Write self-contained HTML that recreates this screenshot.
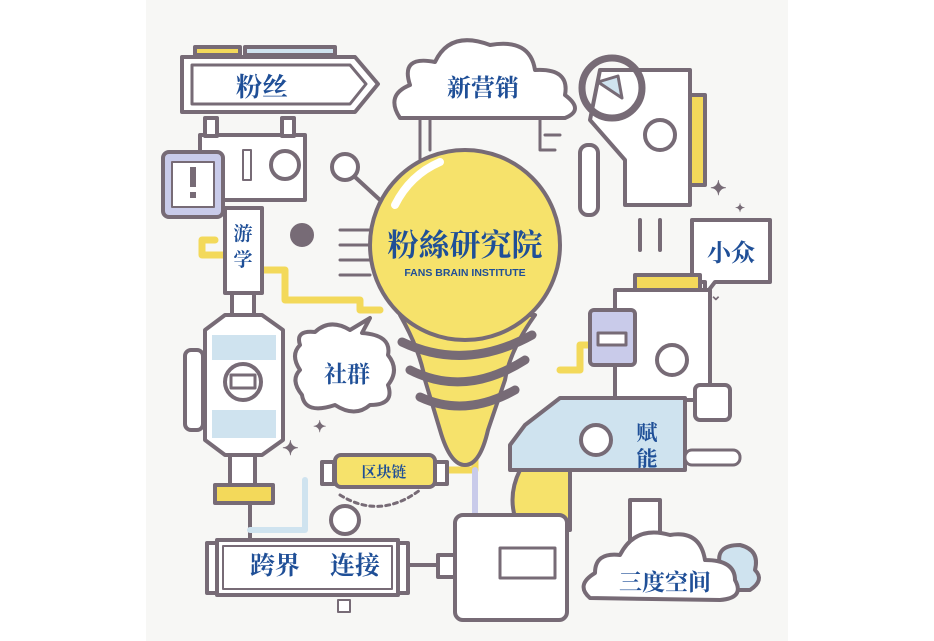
<!DOCTYPE html>
<html><head><meta charset="utf-8"><style>
html,body{margin:0;padding:0;background:#fff;}
svg{display:block}
text{font-family:"Liberation Serif","Noto Serif CJK SC",serif;fill:#1f4f97;font-weight:bold}
</style></head><body>
<svg width="934" height="641" viewBox="0 0 934 641" xmlns="http://www.w3.org/2000/svg">
<rect x="0" y="0" width="934" height="641" fill="#fff"/>
<rect x="146" y="0" width="642" height="641" fill="#f7f7f5"/>
<g stroke="#776b76" stroke-width="4" stroke-linejoin="round" stroke-linecap="round">
<path d="M215 240 H202 V255 H225" fill="none" stroke="#f3d95a" stroke-width="7"/>
<path d="M262 270 H285 V300 H360 V310 H380" fill="none" stroke="#f3d95a" stroke-width="7"/>
<path d="M560 370 H580 V345 H600" fill="none" stroke="#f3d95a" stroke-width="7"/>
<path d="M640 220 V250 M660 220 V250" fill="none"/>
<path d="M250 480 V540" fill="none"/>
<path d="M440 470 H475 V440" fill="none" stroke="#f3d95a" stroke-width="7"/>
<path d="M475 470 V520" fill="none" stroke="#c9cbea" stroke-width="6"/>
<path d="M305 480 V530 H250" fill="none" stroke="#cfe3ef" stroke-width="6"/>
<path d="M420 120 V160 M430 120 V150 M540 120 V150 H555 M545 135 H560" fill="none" stroke-width="3"/>
<path d="M340 230 H370 M340 245 H370 M340 260 H370 M340 275 H370" fill="none" stroke-width="3"/>
<path d="M405 565 H455" fill="none"/>
<rect x="195" y="47" width="45" height="8" fill="#f3d95a"/>
<rect x="245" y="47" width="90" height="8" fill="#cfe3ef"/>
<path d="M182 57 H355 L378 84 L355 112 H182 Z" fill="#fff"/>
<path d="M192 65 H350 L366 84 L350 104 H192 Z" fill="#fff" stroke-width="3"/>
<rect x="200" y="135" width="105" height="65" fill="#fff"/>
<rect x="205" y="118" width="12" height="18" fill="#fff"/>
<rect x="282" y="118" width="12" height="18" fill="#fff"/>
<circle cx="285" cy="165" r="14" fill="#fff"/>
<rect x="243" y="150" width="8" height="30" fill="#fff" stroke-width="2"/>
<rect x="163" y="152" width="60" height="65" rx="6" fill="#c9cbea"/>
<rect x="172" y="162" width="42" height="45" fill="#fff" stroke-width="2"/>
<rect x="190" y="167" width="6" height="20" fill="#776b76" stroke="none"/>
<rect x="190" y="192" width="6" height="6" fill="#776b76" stroke="none"/>
<circle cx="302" cy="235" r="10" fill="#776b76"/>
<rect x="225" y="208" width="37" height="85" fill="#fff"/>
<rect x="232" y="293" width="22" height="30" fill="#fff"/>
<path d="M205 330 L225 315 H262 L283 330 V440 L262 455 H225 L205 440 Z" fill="#fff"/>
<path d="M212 335 H276 V360 H212 Z" fill="#cfe3ef" stroke="none"/>
<path d="M212 410 H276 V438 H212 Z" fill="#cfe3ef" stroke="none"/>
<circle cx="243" cy="382" r="18" fill="#fff"/>
<rect x="231" y="375" width="24" height="13" fill="#fff" stroke-width="3"/>
<rect x="185" y="350" width="18" height="80" rx="6" fill="#fff"/>
<rect x="215" y="485" width="58" height="18" fill="#f3d95a"/>
<rect x="230" y="455" width="25" height="30" fill="#fff"/>
<!-- bulb -->
<path d="M400 315 Q420 350 425 380 L440 430 Q450 465 465 465 Q480 465 488 430 L505 380 Q510 350 535 315 Z" fill="#f6e26b"/>
<circle cx="465" cy="245" r="95" fill="#f6e26b"/>
<path d="M402 342 Q465 372 532 335" fill="none" stroke-width="9"/>
<path d="M410 370 Q465 398 525 360" fill="none" stroke-width="9"/>
<path d="M420 397 Q465 418 515 390" fill="none" stroke-width="9"/>
<path d="M395 205 Q410 175 440 162" fill="none" stroke="#fff" stroke-width="8"/>
<circle cx="345" cy="167" r="13" fill="#fff"/>
<path d="M355 177 L380 200" fill="none"/>
<path d="M400 118 Q385 95 410 85 Q400 55 435 62 Q450 30 490 45 Q530 38 535 70 Q570 68 565 95 Q585 110 565 118 Z" fill="#fff"/>
<!-- top right machine -->
<path d="M600 70 H690 V205 H625 V160 L590 120 Z" fill="#fff"/>
<rect x="690" y="95" width="15" height="90" fill="#f3d95a"/>
<circle cx="660" cy="135" r="15" fill="#fff"/>
<circle cx="612" cy="88" r="30" fill="none" stroke-width="7"/>
<path d="M598 82 L618 76 L622 98 Z" fill="#cfe3ef" stroke-width="3"/>
<rect x="580" y="145" width="18" height="70" rx="8" fill="#fff"/>
<path d="M692 220 H770 V282 H715 L705 295 V282 H692 Z" fill="#fff"/>
<rect x="635" y="275" width="65" height="15" fill="#f3d95a"/>
<rect x="615" y="290" width="95" height="110" fill="#fff"/>
<rect x="590" y="310" width="45" height="55" rx="4" fill="#c9cbea"/>
<rect x="598" y="333" width="28" height="12" fill="#fff" stroke-width="3"/>
<circle cx="672" cy="360" r="15" fill="#fff"/>
<rect x="695" y="385" width="35" height="35" rx="5" fill="#fff"/>
<path d="M520 470 Q505 500 520 530 H570 V470 Z" fill="#f6e26b"/>
<circle cx="540" cy="445" r="22" fill="#fff" stroke-dasharray="6 4"/>
<path d="M525 425 L560 398 H685 V470 H510 V445 Z" fill="#cfe3ef"/>
<circle cx="596" cy="440" r="15" fill="#fff"/>
<rect x="630" y="500" width="30" height="45" fill="#fff"/>
<rect x="685" y="450" width="55" height="15" rx="7" fill="#fff" stroke-width="3"/>
<path d="M300 345 Q295 330 315 332 Q330 318 350 330 L370 318 L362 333 Q392 335 388 355 Q400 370 388 385 Q395 405 370 405 Q355 418 335 405 Q305 415 302 395 Q290 380 300 370 Q290 355 300 345 Z" fill="#fff"/>
<path d="M340 495 Q380 520 420 490" fill="none" stroke-dasharray="4 4" stroke-width="3"/>
<rect x="322" y="462" width="12" height="22" fill="#fff"/>
<rect x="335" y="455" width="100" height="32" rx="6" fill="#f6e26b"/>
<rect x="435" y="462" width="12" height="22" fill="#fff"/>
<circle cx="345" cy="520" r="14" fill="#fff"/>
<rect x="207" y="543" width="10" height="50" fill="#fff"/>
<rect x="398" y="543" width="10" height="50" fill="#fff"/>
<rect x="217" y="540" width="181" height="55" fill="#fff"/>
<rect x="223" y="546" width="169" height="43" fill="#fff" stroke-width="2"/>
<rect x="338" y="600" width="12" height="12" fill="#fff" stroke-width="2"/>
<rect x="455" y="515" width="112" height="105" rx="8" fill="#fff"/>
<rect x="500" y="548" width="55" height="30" fill="#fff" stroke-width="3"/>
<rect x="438" y="555" width="17" height="22" fill="#fff"/>
<path d="M720 565 Q715 545 740 545 Q760 550 755 570 Q765 580 750 590 H720 Z" fill="#cfe3ef"/>
<path d="M590 598 Q575 585 595 573 Q595 552 620 555 Q635 525 670 535 Q700 530 705 560 Q735 560 735 580 Q745 598 720 600 Z" fill="#fff"/>
</g>
<g font-size="20"><text x="710" y="195" style="fill:#776b76">✦</text><text x="282" y="455" style="fill:#776b76">✦</text><text x="313" y="432" style="fill:#776b76" font-size="16">✦</text><text x="735" y="212" style="fill:#776b76" font-size="12">✦</text></g>
<text x="710" y="300" font-size="14" style="fill:#776b76">⌄</text>
<text x="262" y="96" font-size="26" text-anchor="middle">粉丝</text>
<text x="483" y="96" font-size="24" text-anchor="middle">新营销</text>
<text x="243" y="240" font-size="19" text-anchor="middle">游</text>
<text x="243" y="266" font-size="19" text-anchor="middle">学</text>
<text x="731" y="261" font-size="24" text-anchor="middle">小众</text>
<text x="465" y="256" font-size="31" text-anchor="middle">粉絲研究院</text>
<text x="465" y="276" font-size="10.5" text-anchor="middle" style="font-family:'Liberation Sans',sans-serif;fill:#1f4f97">FANS BRAIN INSTITUTE</text>
<text x="347" y="382" font-size="23" text-anchor="middle">社群</text>
<text x="384" y="477" font-size="15" text-anchor="middle">区块链</text>
<text x="647" y="440" font-size="21" text-anchor="middle">赋</text>
<text x="647" y="466" font-size="21" text-anchor="middle">能</text>
<text x="275" y="574" font-size="25" text-anchor="middle">跨界</text>
<text x="355" y="574" font-size="25" text-anchor="middle">连接</text>
<text x="665" y="590" font-size="23" text-anchor="middle">三度空间</text>
</svg>
</body></html>
